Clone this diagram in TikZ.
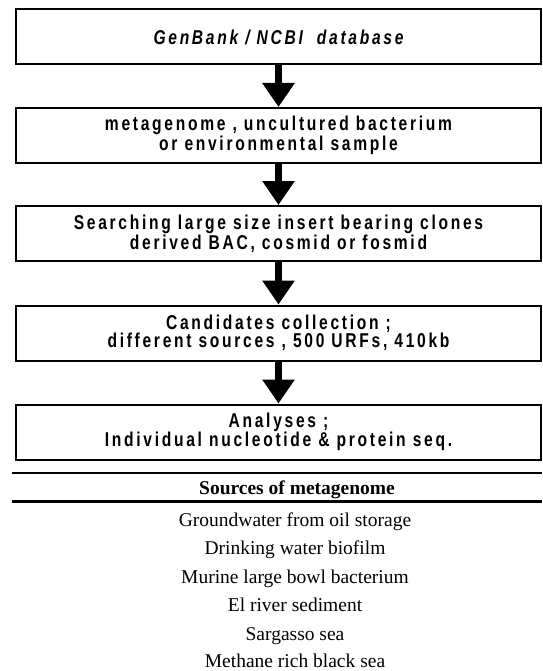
\documentclass[tikz,border=0pt]{standalone}
\usepackage{fontspec}
\setmainfont{Liberation Serif}
\newfontfamily\boxfont[FakeStretch=0.78,LetterSpace=13.5]{Liberation Sans}
\usetikzlibrary{arrows.meta}
\tikzset{
  stepbox/.style={draw=black, line width=2pt, minimum width=525pt, minimum height=55pt,
    inner sep=0pt, align=center, font=\boxfont\bfseries\fontsize{20}{17.5}\selectfont},
  flowarrow/.style={line width=7pt, -{Triangle[width=31pt,length=24pt]}, shorten <=-1pt},
  rule/.style={line width=2.6pt},
  row/.style={font=\fontsize{19.5}{22}\selectfont, inner sep=0pt, anchor=base},
  head/.style={font=\bfseries\fontsize{19.5}{22}\selectfont, inner sep=0pt, anchor=base}
}
\begin{document}
\begin{tikzpicture}[x=1pt,y=-1pt]
\useasboundingbox (0,0) rectangle (542,671);
\node[stepbox] (b1) at (278.5,37) {\itshape GenBank / NCBI \ database};
\node[stepbox] (b2) at (278.5,135.5) {metagenome , uncultured bacterium\\or environmental sample};
\node[stepbox] (b3) at (278.5,233.5) {Searching large size insert bearing clones\\derived BAC, cosmid or fosmid};
\node[stepbox] (b4) at (278.5,333) {Candidates collection ;\\different sources , 500 URFs, 410kb};
\node[stepbox] (b5) at (278.5,432) {Analyses ;\\Individual nucleotide \& protein seq.};
\draw[flowarrow] (b1) -- (b2);
\draw[flowarrow] (b2) -- (b3);
\draw[flowarrow] (b3) -- (b4);
\draw[flowarrow] (b4) -- (b5);
\coordinate (r1l) at (12,473); \coordinate (r1r) at (542,473);
\coordinate (r2l) at (12,501.5); \coordinate (r2r) at (542,501.5);
\draw[rule] (r1l) -- (r1r);
\draw[rule] (r2l) -- (r2r);
\node[head] (h) at (297,494) {Sources of metagenome};
\node[row] (s1) at (295,526) {Groundwater from oil storage};
\node[row] (s2) at (295,554.5) {Drinking water biofilm};
\node[row] (s3) at (295,583) {Murine large bowl bacterium};
\node[row] (s4) at (295,611.5) {El river sediment};
\node[row] (s5) at (295,640) {Sargasso sea};
\node[row] (s6) at (295,667) {Methane rich black sea};
\end{tikzpicture}
\end{document}
